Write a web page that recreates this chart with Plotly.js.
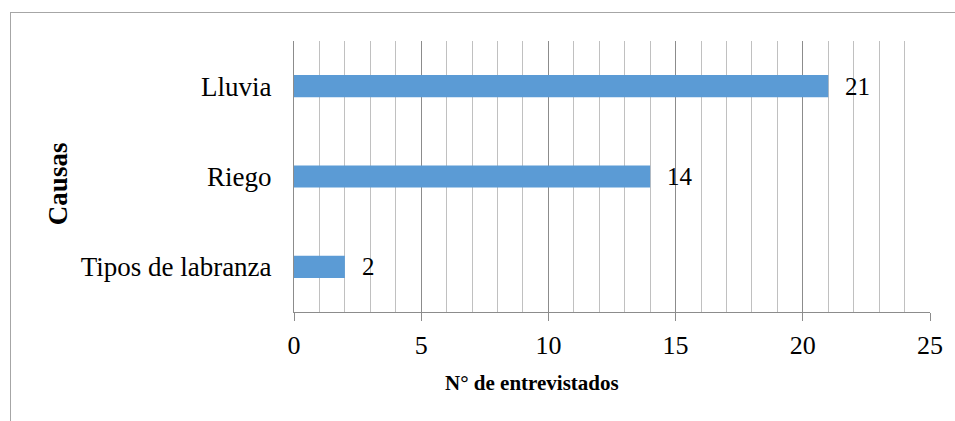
<!DOCTYPE html>
<html>
<head>
<meta charset="utf-8">
<script src="https://cdn.plot.ly/plotly-3.0.1.min.js"></script>
<style>
  html, body { margin: 0; padding: 0; background: #fff; }
  #wrap { position: relative; width: 955px; height: 421px; overflow: hidden; }
  #chart { position: absolute; left: 0; top: 0; width: 955px; height: 421px; }
  #frame { position: absolute; left: 10px; top: 12px; width: 960px; height: 420px;
           border-top: 1px solid #a6a6a6; border-left: 1px solid #a6a6a6; pointer-events: none; }
</style>
</head>
<body>
<div id="wrap">
  <div id="chart"></div>
  <div id="frame"></div>
</div>
<script>
const categories = ["Lluvia", "Riego", "Tipos de labranza"];
const values = [21, 14, 2];
const xTitle = "N° de entrevistados";
const yTitle = "Causas";

const serif = 'Liberation Serif, Times New Roman, serif';

const trace = {
  type: 'bar',
  orientation: 'h',
  x: values,
  y: categories,
  width: 0.245,
  marker: { color: '#5B9BD5' },
  hoverinfo: 'skip'
};

const annotations = categories.map((c, i) => ({
  x: values[i], y: c, xref: 'x', yref: 'y',
  text: String(values[i]), showarrow: false,
  xanchor: 'left', yanchor: 'middle', xshift: 15,
  font: { family: serif, size: 25, color: '#000' }
}));

annotations.push({
  x: 0.374, y: -0.262, xref: 'paper', yref: 'paper',
  text: xTitle, showarrow: false, xanchor: 'center', yanchor: 'middle',
  font: { family: serif, size: 21, color: '#000', weight: 'bold' }
});
annotations.push({
  x: -0.371, y: 0.472, xref: 'paper', yref: 'paper',
  text: yTitle, showarrow: false, xanchor: 'center', yanchor: 'middle', textangle: -90,
  font: { family: serif, size: 27, color: '#000', weight: 'bold' }
});

const layout = {
  width: 955, height: 421,
  margin: { l: 294, r: 25, t: 41, b: 109 },
  paper_bgcolor: '#fff', plot_bgcolor: '#fff',
  showlegend: false,
  font: { family: serif, color: '#000' },
  xaxis: {
    range: [0, 25], dtick: 5, tick0: 0,
    showgrid: true, gridcolor: '#8c8c8c', gridwidth: 1,
    zeroline: false,
    showline: true, linecolor: '#8c8c8c', linewidth: 1,
    ticks: 'outside', ticklen: 8, tickcolor: '#8c8c8c', tickwidth: 1,
    ticklabelstandoff: 2,
    tickfont: { family: serif, size: 26, color: '#000' },
    minor: { dtick: 1, showgrid: true, gridcolor: '#c0c0c0', gridwidth: 1, ticks: '' },
    fixedrange: true
  },
  yaxis: {
    type: 'category',
    categoryorder: 'array', categoryarray: categories,
    autorange: 'reversed',
    showgrid: false, zeroline: false,
    showline: true, linecolor: '#8c8c8c', linewidth: 1,
    ticks: '', ticklabelstandoff: 16,
    tickfont: { family: serif, size: 27, color: '#000' },
    fixedrange: true
  },
  annotations: annotations
};

Plotly.newPlot('chart', [trace], layout, { displayModeBar: false, staticPlot: true });
</script>
</body>
</html>
